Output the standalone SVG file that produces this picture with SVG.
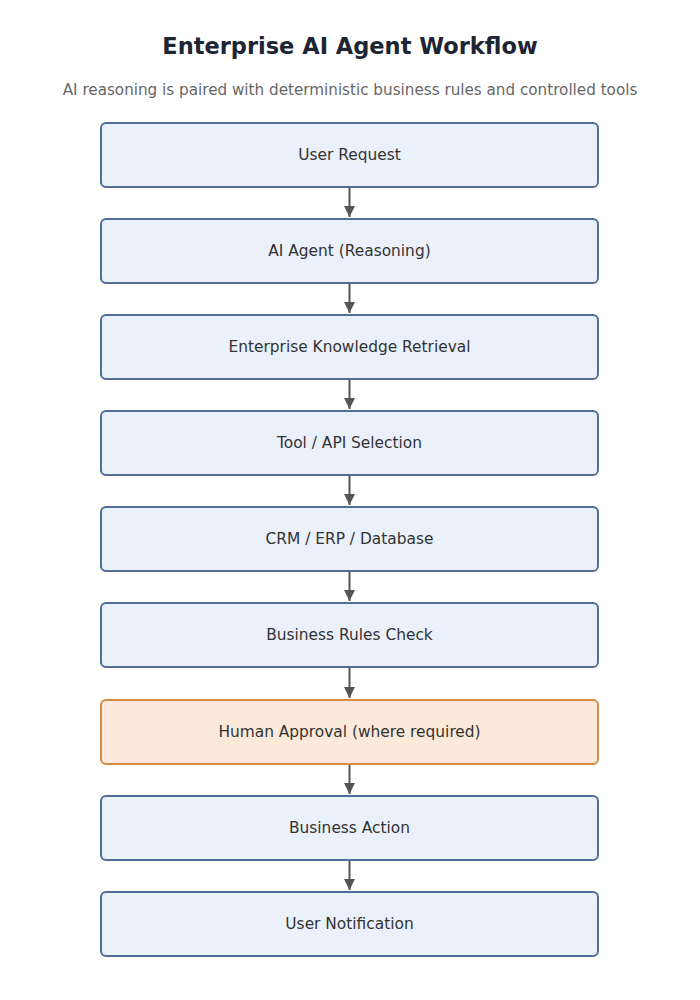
<svg xmlns="http://www.w3.org/2000/svg" width="700" height="1000" viewBox="0 0 700 1000">
<style>
.box{fill:#eaf1fb;stroke:#4f6f99;stroke-width:2}
.hum{fill:#fbe9d9;stroke:#d98a45;stroke-width:2}
.lbl{font-family:"DejaVu Sans",sans-serif;font-size:15.4px;fill:#333;text-anchor:middle;dominant-baseline:central}
.conn line{stroke:#555;stroke-width:2}
</style>
<defs>
<marker id="ah" viewBox="0 0 10 10" refX="10" refY="5" markerWidth="11" markerHeight="11" markerUnits="userSpaceOnUse" orient="auto">
<path d="M0,0 L10,5 L0,10 z" fill="#555"/>
</marker>
</defs>
<rect width="700" height="1000" fill="#fff"/>
<text x="350" y="54" font-family="DejaVu Sans,sans-serif" font-size="22.5" font-weight="bold" fill="#1d2433" text-anchor="middle">Enterprise AI Agent Workflow</text>
<text x="350" y="95" font-family="DejaVu Sans,sans-serif" font-size="15.2" fill="#666" text-anchor="middle">AI reasoning is paired with deterministic business rules and controlled tools</text>
<g id="n1"><rect class="box" x="101" y="123" width="497" height="64" rx="5"/><text class="lbl" x="349.5" y="155">User Request</text></g>
<g id="n2"><rect class="box" x="101" y="219" width="497" height="64" rx="5"/><text class="lbl" x="349.5" y="251">AI Agent (Reasoning)</text></g>
<g id="n3"><rect class="box" x="101" y="315" width="497" height="64" rx="5"/><text class="lbl" x="349.5" y="347">Enterprise Knowledge Retrieval</text></g>
<g id="n4"><rect class="box" x="101" y="411" width="497" height="64" rx="5"/><text class="lbl" x="349.5" y="443">Tool / API Selection</text></g>
<g id="n5"><rect class="box" x="101" y="507" width="497" height="64" rx="5"/><text class="lbl" x="349.5" y="539">CRM / ERP / Database</text></g>
<g id="n6"><rect class="box" x="101" y="603" width="497" height="64" rx="5"/><text class="lbl" x="349.5" y="635">Business Rules Check</text></g>
<g id="n7"><rect class="hum" x="101" y="700" width="497" height="64" rx="5"/><text class="lbl" x="349.5" y="732">Human Approval (where required)</text></g>
<g id="n8"><rect class="box" x="101" y="796" width="497" height="64" rx="5"/><text class="lbl" x="349.5" y="828">Business Action</text></g>
<g id="n9"><rect class="box" x="101" y="892" width="497" height="64" rx="5"/><text class="lbl" x="349.5" y="924">User Notification</text></g>
<g class="conn" id="connectors">
<line x1="349.5" y1="188" x2="349.5" y2="217" marker-end="url(#ah)"/>
<line x1="349.5" y1="284" x2="349.5" y2="313" marker-end="url(#ah)"/>
<line x1="349.5" y1="380" x2="349.5" y2="409" marker-end="url(#ah)"/>
<line x1="349.5" y1="476" x2="349.5" y2="505" marker-end="url(#ah)"/>
<line x1="349.5" y1="572" x2="349.5" y2="601" marker-end="url(#ah)"/>
<line x1="349.5" y1="668" x2="349.5" y2="698" marker-end="url(#ah)"/>
<line x1="349.5" y1="765" x2="349.5" y2="794" marker-end="url(#ah)"/>
<line x1="349.5" y1="861" x2="349.5" y2="890" marker-end="url(#ah)"/>
</g>
</svg>
